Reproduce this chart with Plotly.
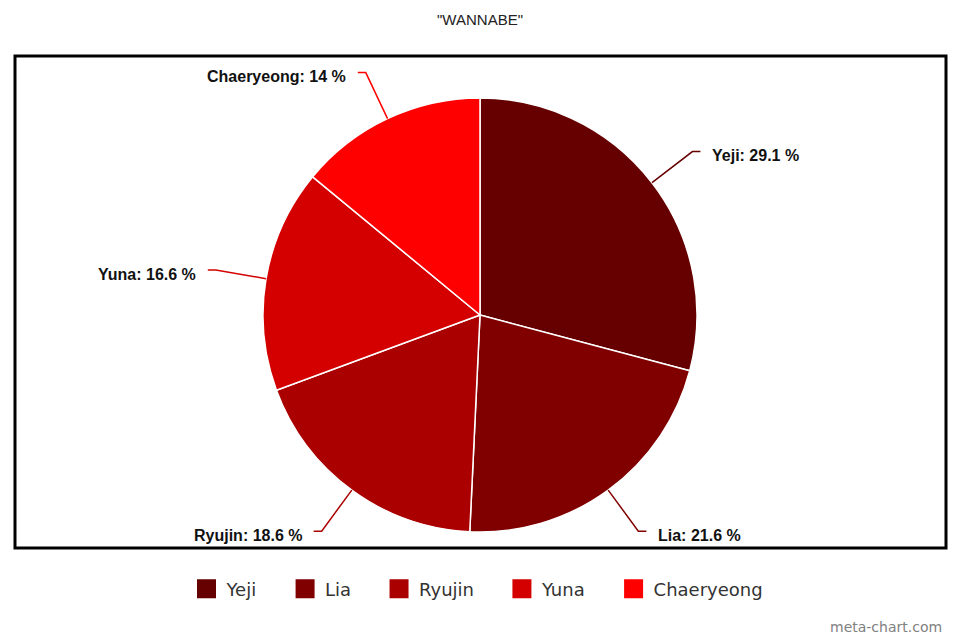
import math
import plotly.graph_objects as go

labels = ["Yeji", "Lia", "Ryujin", "Yuna", "Chaeryeong"]
values = [29.1, 21.6, 18.6, 16.6, 14.0]
colors = ["#660000", "#800000", "#aa0000", "#d40000", "#ff0000"]
title_text = '"WANNABE"'

W, H = 960, 640
CX, CY, R = 480, 315, 217


def px(x, y):
    return x / W, 1 - y / H


fig = go.Figure()
fig.add_trace(go.Pie(
    labels=labels, values=values, sort=False, direction="clockwise", rotation=0,
    marker=dict(colors=colors, line=dict(color="white", width=1.5)),
    textinfo="none", hoverinfo="label+percent", showlegend=False,
    domain=dict(x=[0, 1], y=[(H - (CY + R)) / H, (H - (CY - R)) / H]),
))

# legend entries (large square swatches)
for lab, c in zip(labels, colors):
    fig.add_trace(go.Scatter(
        x=[None], y=[None], mode="markers", name=lab + "\u00a0" * 4,
        marker=dict(symbol="square", size=16, color=c, line=dict(color=c, width=3)),
        showlegend=True, hoverinfo="skip",
    ))

shapes = []
annotations = []
total = sum(values)
cum = 0.0
for lab, v, c in zip(labels, values, colors):
    mid = (cum + v / 2) / total * 2 * math.pi
    cum += v
    s, co = math.sin(mid), math.cos(mid)
    ex, ey = CX + R * s, CY - R * co
    mx, my = CX + R * 1.15 * s, CY - R * 1.15 * co
    kx, ky = CX + R * 1.235 * s, CY - R * 1.235 * co
    side = 1 if s >= 0 else -1
    tx = kx + side * 8
    p0 = px(ex, ey)
    p1 = px(mx, my)
    p2 = px(kx, ky)
    p3 = px(tx, ky)
    shapes.append(dict(
        type="path", xref="paper", yref="paper",
        path=f"M {p0[0]},{p0[1]} Q {p1[0]},{p1[1]} {p2[0]},{p2[1]} L {p3[0]},{p3[1]}",
        line=dict(color=c, width=1.5),
    ))
    lx, ly = px(tx + side * 10, ky + 4)
    annotations.append(dict(
        x=lx, y=ly, xref="paper", yref="paper", showarrow=False,
        text=f"<b>{lab}: {v:g} %</b>",
        xanchor="left" if side > 0 else "right", yanchor="middle",
        font=dict(family="Liberation Sans, Arial, sans-serif", size=16, color="#111111"),
    ))

# chart border
b0 = px(15, 56)
b1 = px(946, 548)
shapes.append(dict(type="rect", xref="paper", yref="paper",
                   x0=b0[0], y0=b1[1], x1=b1[0], y1=b0[1],
                   line=dict(color="black", width=3), layer="below"))

wx, wy = px(944, 627)
annotations.append(dict(
    x=wx, y=wy, xref="paper", yref="paper",
    showarrow=False, text="meta-chart.com", xanchor="right", yanchor="middle",
    font=dict(family="DejaVu Sans", size=14, color="#808080"),
))

fig.update_layout(
    width=W, height=H,
    margin=dict(l=0, r=0, t=0, b=0),
    paper_bgcolor="white", plot_bgcolor="white",
    xaxis=dict(visible=False), yaxis=dict(visible=False),
    title=dict(text=title_text, x=0.5, xanchor="center", y=1 - 20 / H, yanchor="middle",
               font=dict(family="Liberation Sans, Arial, sans-serif", size=15, color="#222222")),
    legend=dict(orientation="h", x=0.5 + 9 / W, xanchor="center", y=1 - 589 / H, yanchor="middle",
                font=dict(family="DejaVu Sans", size=18, color="#333333"),
                itemwidth=30, traceorder="normal"),
    shapes=shapes, annotations=annotations,
)

fig.write_html("out.html", config={"displayModeBar": False},
               post_script="document.body.style.margin='0';")
